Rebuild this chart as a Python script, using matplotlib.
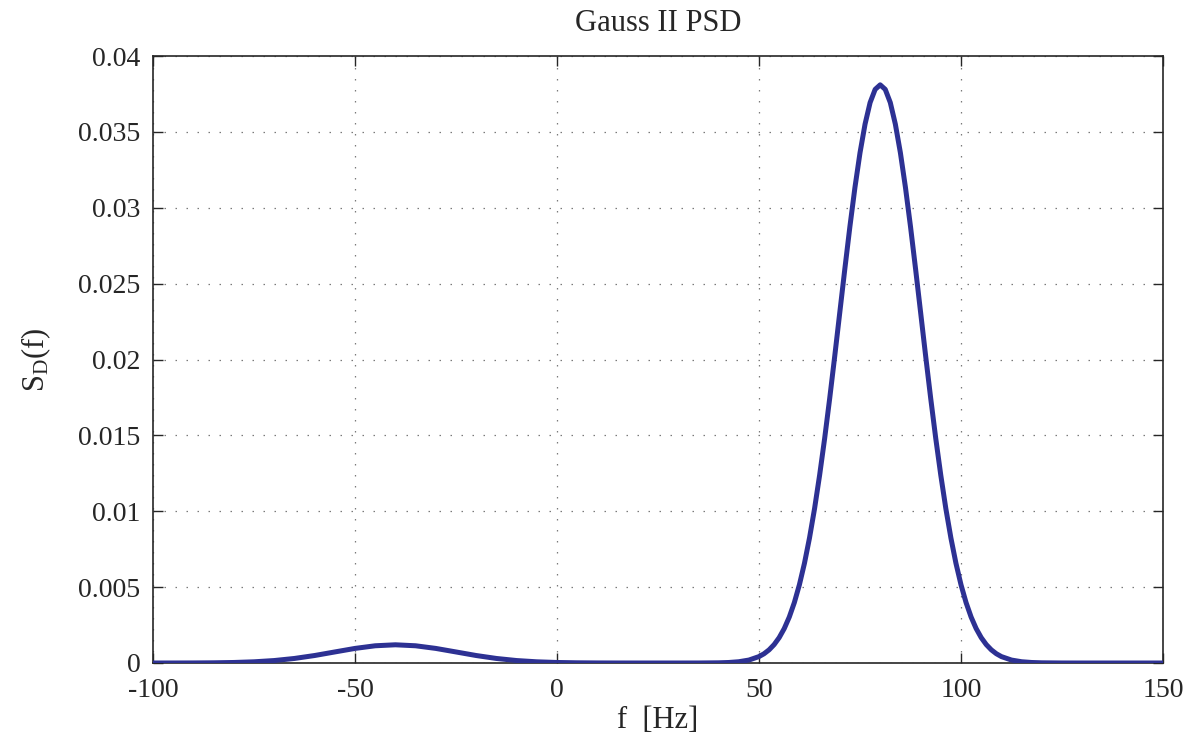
import matplotlib
matplotlib.use("Agg")
import matplotlib.pyplot as plt

# Doppler power spectral density sampled on a frequency grid
freq_hz = [-100, -95, -90, -85, -80, -75, -70, -65, -60, -55, -50, -45, -40,
           -35, -30, -25, -20, -15, -10, -5, 0, 5, 10, 15, 20, 25, 30, 35, 40,
           42.5, 45, 47.5, 50, 51.25, 52.5, 53.75, 55, 56.25, 57.5, 58.75,
           60, 61.25, 62.5, 63.75, 65, 66.25, 67.5, 68.75, 70, 71.25,
           72.5, 73.75, 75, 76.25, 77.5, 78.75, 80, 81.25, 82.5, 83.75, 85,
           86.25, 87.5, 88.75, 90, 91.25, 92.5, 93.75, 95, 96.25, 97.5,
           98.75, 100, 101.25, 102.5, 103.75, 105, 106.25, 107.5, 108.75, 110,
           112.5, 115, 117.5, 120, 125, 130, 135, 140, 145, 150]
psd = [0.0000004, 0.0000014, 0.0000046, 0.0000133, 0.0000343, 0.0000789,
       0.000162, 0.000299, 0.000493, 0.000728, 0.000961, 0.001135, 0.0012,
       0.001135, 0.000961, 0.000728, 0.000493, 0.000299, 0.000162, 0.0000789,
       0.0000343, 0.0000133, 0.0000046, 0.0000014, 0.0000004, 0.0000001,
       0.0000002, 0.0000015, 0.0000128,
       0.0000337, 0.0000833, 0.000194, 0.000423, 0.000611, 0.000868,
       0.001215, 0.001674, 0.00227, 0.003031, 0.003984,
       0.005157, 0.00657, 0.00824, 0.01017, 0.01237, 0.0148, 0.01744,
       0.02023, 0.02311, 0.02598,
       0.02876, 0.03134, 0.03362, 0.03551, 0.03693, 0.0378, 0.0381, 0.0378,
       0.03693, 0.03551, 0.03362,
       0.03134, 0.02876, 0.02598, 0.02311, 0.02023, 0.01744, 0.0148,
       0.01237, 0.01017, 0.00824,
       0.00657, 0.005157, 0.003984, 0.003031, 0.00227, 0.001674, 0.001215,
       0.000868, 0.000611, 0.000423,
       0.000194, 0.0000833, 0.0000337, 0.0000128, 0.0000015, 0.0000001,
       0.0, 0.0, 0.0, 0.0]

x_ticks = [-100, -50, 0, 50, 100, 150]
x_tick_labels = ["-100", "-50", "0", "50", "100", "150"]
y_ticks = [0, 0.005, 0.01, 0.015, 0.02, 0.025, 0.03, 0.035, 0.04]
y_tick_labels = ["0", "0.005", "0.01", "0.015", "0.02", "0.025", "0.03",
                 "0.035", "0.04"]

plt.rcParams["font.family"] = ["Liberation Serif", "DejaVu Serif"]
plt.rcParams["mathtext.fontset"] = "custom"
plt.rcParams["mathtext.rm"] = "Liberation Serif"
plt.rcParams["mathtext.it"] = "Liberation Serif:italic"

fig = plt.figure(figsize=(11.92, 7.44), dpi=100)
ax = fig.add_axes([153 / 1192, 1 - 663 / 744, 1010 / 1192, 607 / 744])

ax.plot(freq_hz, psd, color="#2d3193", linewidth=3.6,
        solid_joinstyle="round", solid_capstyle="butt", zorder=3)

ax.set_xlim(-100, 150)
ax.set_ylim(0, 0.04)
ax.set_xticks(x_ticks)
ax.set_xticklabels(x_tick_labels)
ax.set_yticks(y_ticks)
ax.set_yticklabels(y_tick_labels)

ax.grid(True, color="#7a7a7a", linestyle=(0, (1.2, 7.6)), linewidth=0.9)
ax.tick_params(direction="in", length=7, width=1.0, colors="#262626",
               labelsize=20, top=True, right=True, pad=9)
ax.tick_params(axis="x", pad=11)
for side in ax.spines.values():
    side.set_color("#262626")
    side.set_linewidth(1.2)

ax.set_title("Gauss II PSD", fontsize=22, color="#262626", pad=18)
ax.set_xlabel("f  [Hz]", fontsize=22, color="#262626", labelpad=2)
ax.set_ylabel(r"S$_\mathregular{D}$(f)", fontsize=22, color="#262626",
              labelpad=18)

fig.savefig("out.png", dpi=100, facecolor="white")
